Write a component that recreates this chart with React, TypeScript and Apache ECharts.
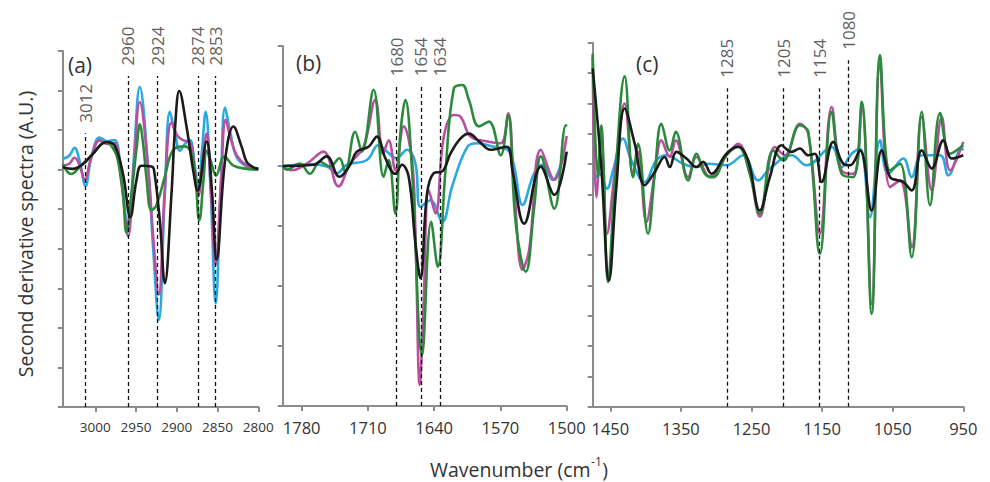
import React, { useEffect, useRef } from 'react';
import * as echarts from 'echarts';

// ---------- tick labels ----------
const xTicksA = [3000, 2950, 2900, 2850, 2800];
const xTicksB = [1780, 1710, 1640, 1570, 1500];
const xTicksC = [1450, 1350, 1250, 1150, 1050, 950];

// ---------- dashed marker lines ----------
const markerPosA = [3012, 2960, 2924, 2874, 2853];
const markerTopA = [0.92, 2.37, 2.37, 2.37, 2.37];
const markerTextA = ['3012', '2960', '2924', '2874', '2853'];

const markerPosB = [1680, 1654, 1634];
const markerTopB = [1.32, 1.32, 1.32];
const markerTextB = ['1680', '1654', '1634'];

const markerPosC = [1285, 1205, 1154, 1113];
const markerTopC = [2.5, 2.5, 2.5, 3.42];
const markerTextC = ['1285', '1205', '1154', '1080'];

// ---------- panel (a) 3040-2800 cm-1 ----------
const blueA: number[][] = [[3040,0.27],[3032,0.35],[3025.5,0.55],[3019,0.2],[3012,-0.41],[3005,0.3],[2994.7,0.81],[2985,0.72],[2976.3,0.75],[2968,-0.2],[2959.8,-1.55],[2953,0.2],[2945.5,2.09],[2935,0],[2929,-2.0],[2922.1,-3.8],[2914.7,-0.62],[2908.5,1.46],[2902,0.9],[2896.2,0.48],[2890,0.65],[2883.9,0.75],[2878,0.1],[2873.6,-0.49],[2869,0.5],[2864.6,1.46],[2858.5,-0.5],[2852.3,-3.38],[2846,-0.4],[2840.8,1.57],[2834,0.9],[2826.4,0.31],[2814.1,0.08],[2800,0.02]];
const magentaA: number[][] = [[3040,0.1],[3032,0.15],[3025.5,0.3],[3019,0.1],[3013.2,-0.26],[3005,0.3],[2994.7,0.74],[2985,0.65],[2976.3,0.67],[2968,-0.3],[2959.8,-1.68],[2953,0.0],[2945.5,1.71],[2935,0],[2929,-1.7],[2922.1,-3.16],[2914.7,-0.5],[2906.5,1.2],[2899,0.85],[2892.1,0.74],[2883.9,0.7],[2878,0.0],[2873.6,-0.66],[2868,0.3],[2863.4,0.91],[2858,-0.6],[2852.3,-2.4],[2846,-0.4],[2840,1.26],[2834,0.8],[2826.4,0.36],[2814.1,0.1],[2800,0.02]];
const greenA: number[][] = [[3040,0.14],[3029.6,-0.11],[3019.4,0.06],[3007.1,0.31],[2986.5,0.7],[2977,0.5],[2972.2,0.23],[2966,-0.62],[2961.9,-1.59],[2955.7,-0.62],[2949,0.6],[2945.5,1.15],[2941,0.6],[2937.3,-0.2],[2931.1,-1.03],[2925,-0.9],[2915,-0.2],[2904.4,0.5],[2890.1,0.59],[2879.8,0.23],[2872.4,-1.28],[2867,-0.2],[2863.4,0.48],[2858,0.2],[2851.9,-0.15],[2841.6,0.33],[2830.5,0.1],[2814.1,0.02],[2800,0]];
const blackA: number[][] = [[3040,0.06],[3027.6,0.02],[3015.3,0.14],[3003,0.4],[2986.5,0.7],[2976.3,0.61],[2966,-0.11],[2957,-1.2],[2949.6,-0.28],[2943.4,0.1],[2931.1,0.08],[2928,0],[2920.8,-1.3],[2914.7,-2.87],[2906.5,-0.6],[2902,1.1],[2897,1.99],[2888,1.08],[2879.8,-0.03],[2874.5,-0.53],[2863.4,0.71],[2857,-0.5],[2851.1,-2.27],[2840.8,0.23],[2830.5,1.09],[2820.3,0.57],[2814.1,0.19],[2805.9,0.06],[2800,0.02]];

// ---------- panel (b) 1800-1500 cm-1 ----------
const blueB: number[][] = [[1800,0],[1771,0.03],[1753.5,-0.01],[1743,-0.12],[1732.3,0.02],[1711.1,0.1],[1698.7,0.35],[1689.9,0.24],[1680,0.13],[1668.7,0.27],[1659.8,0.04],[1654.5,-0.68],[1644,-0.57],[1631.5,-0.93],[1621,-0.34],[1605,0.32],[1594.4,0.38],[1576.8,0.32],[1562.6,0.27],[1555.6,0.0],[1546.7,-0.65],[1534.3,-0.12],[1525.5,0.02],[1514.9,-0.23],[1502.5,0.16],[1500,0.18]];
const magentaB: number[][] = [[1800,-0.01],[1790.6,-0.07],[1774.7,0.04],[1757,0.24],[1741.1,-0.34],[1728.8,0.04],[1714.6,0.32],[1702.2,1.1],[1694,0.2],[1688.1,0.43],[1681,-0.07],[1672.2,0.66],[1663.4,0.1],[1659.8,-1.12],[1655.2,-3.65],[1651,-2.23],[1645.7,-0.4],[1638.6,-0.79],[1629.8,0.49],[1619.2,0.85],[1612.1,0.82],[1601.5,0.49],[1583.8,0.41],[1569.7,0.38],[1561.9,0.88],[1555.6,-0.34],[1546.7,-1.73],[1539.7,-1.4],[1527.3,0.27],[1513.1,-0.23],[1500,0.5]];
const greenB: number[][] = [[1800,-0.01],[1795.9,-0.06],[1781.8,0.04],[1771.2,-0.13],[1760.6,0.07],[1750,-0.01],[1740.1,0.13],[1734.1,-0.09],[1723.5,0.57],[1716.4,0.24],[1704,1.27],[1693.4,-0.18],[1688.1,0.1],[1681,-0.79],[1675.7,0.54],[1670.4,1.1],[1663.4,-0.07],[1652.8,-3.15],[1643.2,-0.93],[1636.2,-1.68],[1628,-0.07],[1619.2,1.29],[1610.3,1.35],[1603.3,1.1],[1592.7,0.66],[1582.1,0.74],[1569.7,0.18],[1561.9,0.85],[1553.8,-0.96],[1543.2,-1.76],[1534.3,-0.68],[1527.3,0.16],[1513.1,-0.71],[1500.8,0.68],[1500,0.66]];
const blackB: number[][] = [[1800,0],[1767.6,0.02],[1753.5,0.16],[1740.1,-0.18],[1728.8,0.02],[1721.7,0.24],[1709.3,0.32],[1700.5,0.49],[1691.6,0.13],[1681,-0.13],[1674,0.02],[1666.9,-0.18],[1659.8,-1.29],[1654.5,-1.87],[1647.5,-0.46],[1640.4,-0.12],[1631.5,-0.09],[1622.7,0.21],[1612.1,0.46],[1603.3,0.54],[1592.7,0.41],[1580.3,0.27],[1563.3,0.32],[1557.3,-0.07],[1544.9,-0.96],[1527.3,-0.01],[1513.1,-0.48],[1500,0.24]];

// ---------- panel (c) 1475-950 cm-1 ----------
const blueC: number[][] = [[1475,-0.59],[1465.1,-0.32],[1454.7,-0.81],[1446.2,-0.21],[1432.1,0.84],[1420.2,0.12],[1401.3,-0.59],[1384.8,0.12],[1370.6,0.29],[1346.9,0.01],[1328,-0.1],[1311.5,0.01],[1285.5,-0.04],[1261.8,0.29],[1240.6,-0.54],[1224,-0.15],[1193.3,0.29],[1172,-0.04],[1136.5,0.56],[1122.4,-0.1],[1108.2,0.34],[1096.4,0.51],[1082.2,-1.75],[1068,0.78],[1056.2,-0.32],[1034.9,0.18],[1023.1,-0.43],[1008.9,0.29],[982.9,0.29],[971.1,-0.37],[952.2,0.51],[950,0.45]];
const magentaC: number[][] = [[1475,3.53],[1469.9,-1.09],[1462.8,0.78],[1454.7,-2.3],[1443.9,-0.32],[1429.7,1.99],[1417.9,-0.32],[1410.8,0.4],[1399,-1.91],[1387.1,-0.32],[1377.7,0.78],[1365.9,0.23],[1357.3,0.78],[1339.9,-0.43],[1328,0.23],[1309.1,-0.43],[1285.5,0.29],[1268.9,0.67],[1252.4,-0.32],[1238.2,-1.73],[1216.9,0.56],[1202.7,0.29],[1181.5,1.33],[1169.6,1.0],[1153.1,-2.3],[1136.5,1.88],[1122.4,-0.21],[1105.8,-0.32],[1094,1.88],[1079.8,-4.61],[1068,3.31],[1053.8,-0.76],[1039.6,-0.54],[1023.1,-2.74],[1008.9,1.55],[994.7,-0.87],[980.5,1.55],[968.7,-0.21],[950,0.73]];
const greenC: number[][] = [[1475,3.64],[1467.5,-0.43],[1462.8,1.28],[1459.5,-0.1],[1453.3,-3.89],[1443.9,-0.76],[1429.7,2.89],[1417.9,-0.43],[1410.8,0.67],[1396.6,-2.3],[1387.1,-0.32],[1377.7,1.33],[1365.9,0.45],[1357.3,1.06],[1339.9,-0.54],[1328,0.34],[1316.2,-0.32],[1304.4,-0.43],[1285.5,0.29],[1268.9,0.56],[1252.4,-0.32],[1238.2,-1.64],[1219.3,0.45],[1205.1,0.12],[1181.5,1.28],[1169.6,1.06],[1153.1,-2.96],[1136.5,1.72],[1122.4,-0.32],[1105.8,-0.43],[1094,2.05],[1079.8,-4.94],[1068,3.59],[1053.8,-0.21],[1039.6,0.01],[1023.1,-3.07],[1008.9,1.72],[997.1,-1.36],[982.9,1.68],[968.7,0.34],[950,0.62]];
const blackC: number[][] = [[1475,3.15],[1462.8,-0.1],[1451.9,-3.84],[1441.5,-0.76],[1429.7,1.83],[1415.5,0.67],[1401.3,-0.7],[1387.1,-0.26],[1373,0.23],[1365.9,-0.1],[1356.4,0.4],[1342.2,0.18],[1328,-0.1],[1318.6,0.07],[1306.8,-0.32],[1285.5,0.34],[1268.9,0.58],[1254.8,0.12],[1238.2,-1.53],[1224,-0.43],[1207.5,0.62],[1193.3,0.4],[1181.5,0.51],[1169.6,0.29],[1160.2,0.34],[1150.7,-0.59],[1134.2,0.73],[1120,0.01],[1110.5,-0.04],[1096.4,0.45],[1079.8,-1.53],[1065.6,0.45],[1053.8,-0.43],[1042,-0.54],[1034.9,-0.59],[1023.1,-0.87],[1008.9,0.45],[994.7,-0.15],[978.2,0.78],[966.3,0.18],[950,0.29]];

// ---------- axis titles ----------
const yTitle = 'Second derivative spectra (A.U.)';
const xTitleMain = 'Wavenumber (cm';
const xTitleSup = '-1';
const xTitleEnd = ')';

// ---------- style ----------
const FONT = '"Open Sans", "Noto Sans", sans-serif';
const AXIS = '#8c8c8c';
const TEXT = '#333333';
const C_BLUE = '#2aa9e0';
const C_MAG = '#b9509f';
const C_GREEN = '#2b8a3c';
const C_BLACK = '#1b1b1b';

function curve(data: number[][], color: string, idx: number, z: number) {
  return {
    type: 'line', data, xAxisIndex: idx, yAxisIndex: idx,
    symbol: 'none', smooth: 0.4, silent: true, z,
    lineStyle: { color, width: 2.6 }, itemStyle: { color },
  };
}

function markers(pos: number[], tops: number[], texts: string[], ymin: number, idx: number) {
  return {
    type: 'scatter', xAxisIndex: idx, yAxisIndex: idx, symbolSize: 1, silent: true, z: 10,
    itemStyle: { color: 'rgba(0,0,0,0)' },
    data: pos.map((p, i) => ({ value: [p, tops[i]], label: { formatter: texts[i] } })),
    label: {
      show: true, position: 'top', distance: 10, rotate: 90, align: 'left', verticalAlign: 'middle',
      fontSize: 17, color: TEXT, fontFamily: FONT,
    },
    markLine: {
      symbol: 'none', silent: true, animation: false, label: { show: false },
      lineStyle: { type: [4, 3], color: '#111', width: 1.3 },
      data: pos.map((p, i) => [{ coord: [p, ymin] }, { coord: [p, tops[i]] }]),
    },
  };
}

function xAxis(idx: number, min: number, max: number, ticks: number[], fs: number) {
  return {
    gridIndex: idx, type: 'value', min, max, inverse: true,
    axisLine: { show: true, onZero: false, lineStyle: { color: AXIS, width: 2 } },
    axisTick: { show: true, length: 5, customValues: ticks, lineStyle: { color: AXIS, width: 2 } },
    axisLabel: {
      customValues: ticks, fontSize: fs, margin: 13, color: TEXT, fontFamily: FONT,
      formatter: (v: number) => String(v),
    },
    splitLine: { show: false },
  };
}

function yAxis(idx: number, min: number, max: number) {
  return {
    gridIndex: idx, type: 'value', min, max, interval: 1,
    axisLine: { show: true, onZero: false, lineStyle: { color: AXIS, width: 2 } },
    axisTick: { show: true, length: 5, lineStyle: { color: AXIS, width: 2 } },
    axisLabel: { show: false },
    splitLine: { show: false },
  };
}

function textWidth(text: string, fontSize: number) {
  const t = new echarts.graphic.Text({ style: { text, fontSize, fontFamily: FONT } });
  return t.getBoundingRect().width;
}

export default function App() {
  const ref = useRef<HTMLDivElement>(null);
  useEffect(() => {
    if (!ref.current) return;
    const chart = echarts.init(ref.current, undefined, { renderer: 'svg' });

    // x-axis title built from three pieces so the "-1" can be superscripted
    const FS = 19.5;
    const w1 = textWidth(xTitleMain, FS);
    const w2 = textWidth(xTitleSup, 12);
    const w3 = textWidth(xTitleEnd, FS);
    const total = w1 + w2 + w3 + 1;
    const x0 = 519 - total / 2;
    const yBase = 469;

    chart.setOption({
      animation: false,
      backgroundColor: '#fff',
      textStyle: { fontFamily: FONT },
      grid: [
        { left: 62.7, top: 51, width: 195.6, height: 356 },
        { left: 282.7, top: 46, width: 284, height: 360 },
        { left: 592.7, top: 42.7, width: 370.6, height: 364 },
      ],
      xAxis: [
        xAxis(0, 2800, 3040, xTicksA, 13.5),
        xAxis(1, 1500, 1800, xTicksB, 16.5),
        xAxis(2, 950, 1475, xTicksC, 16.5),
      ],
      yAxis: [yAxis(0, -6, 3), yAxis(1, -4, 2), yAxis(2, -8, 4)],
      series: [
        curve(blueA, C_BLUE, 0, 2), curve(magentaA, C_MAG, 0, 3), curve(greenA, C_GREEN, 0, 4), curve(blackA, C_BLACK, 0, 5),
        curve(blueB, C_BLUE, 1, 2), curve(magentaB, C_MAG, 1, 3), curve(greenB, C_GREEN, 1, 4), curve(blackB, C_BLACK, 1, 5),
        curve(blueC, C_BLUE, 2, 2), curve(magentaC, C_MAG, 2, 3), curve(greenC, C_GREEN, 2, 4), curve(blackC, C_BLACK, 2, 5),
        markers(markerPosA, markerTopA, markerTextA, -6, 0),
        markers(markerPosB, markerTopB, markerTextB, -4, 1),
        markers(markerPosC, markerTopC, markerTextC, -8, 2),
      ],
      graphic: [
        { type: 'text', x: 68, y: 54, style: { text: '(a)', fontSize: 21, fontFamily: FONT, fill: TEXT } },
        { type: 'text', x: 296, y: 52, style: { text: '(b)', fontSize: 21, fontFamily: FONT, fill: TEXT } },
        { type: 'text', x: 636, y: 53, style: { text: '(c)', fontSize: 21, fontFamily: FONT, fill: TEXT } },
        {
          type: 'text', x: 25, y: 234, rotation: Math.PI / 2,
          style: { text: yTitle, fontSize: 19.5, fontFamily: FONT, fill: TEXT, align: 'center', verticalAlign: 'middle' },
        },
        {
          type: 'text', x: x0, y: yBase,
          style: { text: xTitleMain, fontSize: FS, lineHeight: 20, fontFamily: FONT, fill: TEXT, align: 'left', verticalAlign: 'middle' },
        },
        {
          type: 'text', x: x0 + w1 + 0.5, y: yBase - 8,
          style: { text: xTitleSup, fontSize: 12, lineHeight: 12, fontFamily: FONT, fill: TEXT, align: 'left', verticalAlign: 'middle' },
        },
        {
          type: 'text', x: x0 + w1 + w2 + 1, y: yBase,
          style: { text: xTitleEnd, fontSize: FS, lineHeight: 20, fontFamily: FONT, fill: TEXT, align: 'left', verticalAlign: 'middle' },
        },
      ],
    });
    return () => chart.dispose();
  }, []);
  return <div ref={ref} style={{ position: 'fixed', left: 0, top: 0, width: 990, height: 482, background: '#fff' }} />;
}
